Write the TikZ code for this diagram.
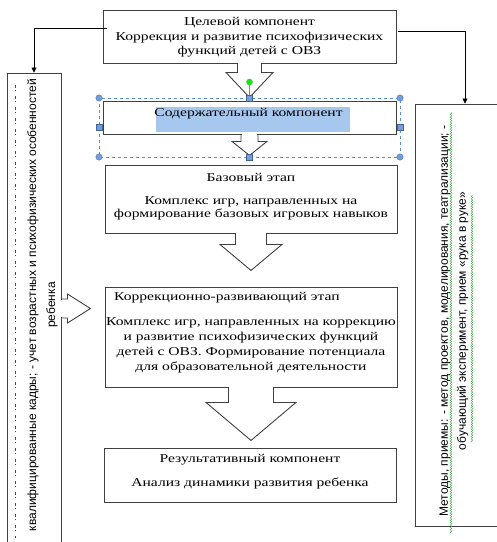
\documentclass[tikz,border=0pt]{standalone}
\usepackage{fontspec}
\setmainfont{Liberation Serif}[FakeStretch=1.3]
\newfontfamily\sidefont{Liberation Sans}
\usetikzlibrary{calc,arrows.meta,decorations.pathmorphing}
\definecolor{boxgray}{HTML}{404040}
\definecolor{selblue}{HTML}{5B8ED6}
\definecolor{hiblue}{HTML}{A7C8EE}
\definecolor{handlegreen}{HTML}{1FE01F}
\definecolor{wavegreen}{HTML}{3CB043}
\definecolor{clipblue}{HTML}{2E4A9E}

\newcommand\downcallout[5]{%
  \fill[white] ($(#1)+(-#2+0.7,-1.5)$) rectangle ($(#1)+(#2-0.7,1.5)$);
  \draw[boxline] ($(#1)+(-#2,0)$) -- ++(0,#3) -- ++(#2-#4,0) -- ($(#1)+(0,#3+#5)$)
    -- ($(#1)+(#4,#3)$) -- ++(#2-#4,0) -- ++(0,-#3);}
\newcommand\rightcallout[5]{%
  \fill[white] ($(#1)+(-1.5,-#2+0.7)$) rectangle ($(#1)+(1.5,#2-0.7)$);
  \draw[boxline] ($(#1)+(0,-#2)$) -- ++(#3,0) -- ++(0,#2-#4) -- ($(#1)+(#3+#5,0)$)
    -- ($(#1)+(#3,#4)$) -- ++(0,#2-#4) -- ++(-#3,0);}

\begin{document}
\begin{tikzpicture}[x=1pt,y=-1pt,
    boxline/.style={draw=boxgray,line width=0.9pt},
    box/.style={boxline,inner sep=0pt},
    maintext/.style={font=\fontsize{12}{14.5}\selectfont,align=center,inner sep=0pt},
    sidetext/.style={font=\sidefont\fontsize{12}{19}\selectfont,align=center,inner sep=0pt,rotate=90},
    link/.style={-{Triangle[length=5pt,width=5pt]},line width=0.7pt},
    selbox/.style={draw=selblue,dashed,line width=0.6pt},
    handle/.style={fill=selblue!85,draw=selblue!70!black,line width=0.3pt},
    wavy/.style={draw=wavegreen,line width=0.5pt,decorate,decoration={snake,amplitude=0.7pt,segment length=2.4pt}}]
        \useasboundingbox (0,0) rectangle (497,542);
        \node[box,minimum width=293pt,minimum height=53pt] (goal) at (249.5,36.5) {};
        \node[box,minimum width=293pt,minimum height=33pt] (content) at (249.5,117.5) {};
        \node[box,minimum width=292pt,minimum height=68pt] (base) at (251,199) {};
        \node[box,minimum width=292pt,minimum height=100pt] (corr) at (251,337) {};
        \node[box,minimum width=292pt,minimum height=54pt] (result) at (250,475) {};
        \node[box,minimum width=54pt,minimum height=477pt] (staff) at (34,311.5) {};
        \node[box,minimum width=100pt,minimum height=422pt] (methods) at (465,315) {};
        \downcallout{goal.south}{12}{9}{23.5}{25}
        \downcallout{content.south}{8.5}{7}{17.5}{14}
        \downcallout{base.south}{15.5}{11}{31}{26}
        \downcallout{corr.south}{22.5}{15}{45}{38}
        \coordinate (staffport) at ($(staff.east)+(0,-3)$);
        \rightcallout{staffport}{9.5}{6}{14.5}{23}
        \fill[hiblue] (156,107) rectangle (350,132);
        \node[maintext] (goaltext) at (249.5,37.5) {Целевой компонент\\Коррекция и развитие психофизических\\функций детей с ОВЗ};
        \node[maintext] (contenttext) at (248.5,113.5) {Содержательный компонент};
        \node[maintext] (basetitle) at (251,177) {Базовый этап};
        \node[maintext,font=\fontsize{12}{13}\selectfont] (basetext) at (251,208.5) {Комплекс игр, направленных на\\формирование базовых игровых навыков};
        \node[maintext,anchor=west] (corrtitle) at (114,298) {Коррекционно-развивающий этап};
        \node[maintext,font=\fontsize{12}{15}\selectfont] (corrtext) at (251,345.5) {Комплекс игр, направленных на коррекцию\\и развитие психофизических функций\\детей с ОВЗ. Формирование потенциала\\для образовательной деятельности};
        \node[maintext] (resulttitle) at (250,460) {Результативный компонент};
        \node[maintext] (resulttext) at (250,483) {Анализ динамики развития ребенка};
        \node[sidetext] (stafftext) at (42.5,305) {квалифицированные кадры; - учет возрастных и психофизических особенностей\\ребенка};
        \node[sidetext,font=\sidefont\fontsize{12}{18}\selectfont] (methodstext) at (454,321) {Методы, приемы: - метод проектов, моделирования, театрализации; -\\обучающий эксперимент, прием «рука в руке»};
        \draw[clipblue,line width=1pt,dash pattern=on 3pt off 2pt on 1pt off 5pt] (15,85) -- (15,538);
        \draw[wavy] (451,533) -- (451,112);
        \draw[wavy] (472,442) -- (472,195);
        \draw[link] ($(goal.north west)+(4,19)$) -| (staff.north);
        \draw[link] ($(goal.north east)+(2,22)$) -| (methods.north);
        \draw[selbox] (99,98) rectangle (400,157);
        \draw[selblue,line width=0.6pt] (249.5,82) -- (249.5,98);
        \fill[handlegreen] (249.5,82) circle (3.3);
        \foreach \hx/\hy in {99/98,400/98,99/157,400/157}
            \draw[handle] (\hx,\hy) circle (3.2);
        \foreach \hx/\hy in {249.5/98,99/127.5,400/127.5,249.5/157}
            \draw[handle] (\hx-3,\hy-3) rectangle (\hx+3,\hy+3);
      \end{tikzpicture}
\end{document}
